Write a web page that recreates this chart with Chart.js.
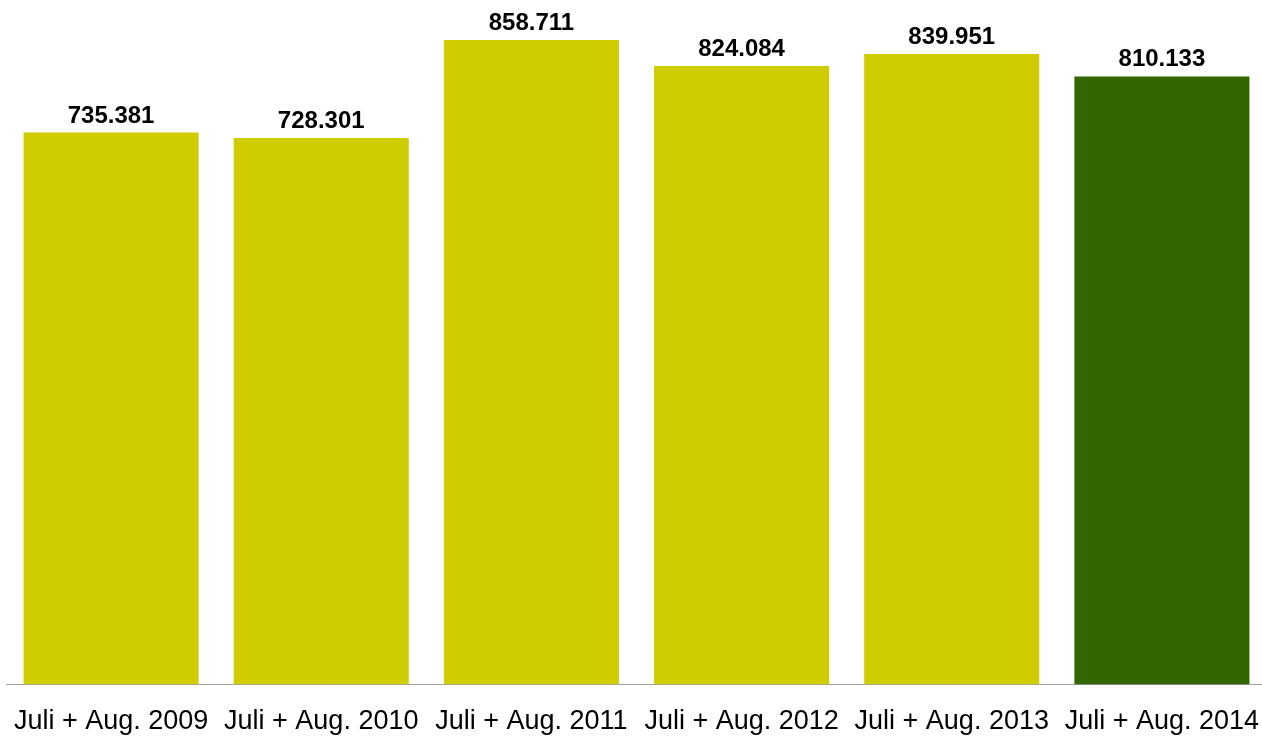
<!DOCTYPE html>
<html>
<head>
<meta charset="utf-8">
<script src="https://cdn.jsdelivr.net/npm/chart.js@4.4.1/dist/chart.umd.min.js"></script>
<style>
    html, body { margin: 0; padding: 0; background: #fff; overflow: hidden; }
    #chart { display: block; }
</style>
</head>
<body>
<canvas id="chart" width="1267" height="738"></canvas>
<script>
const categories = ['Juli + Aug. 2009', 'Juli + Aug. 2010', 'Juli + Aug. 2011', 'Juli + Aug. 2012', 'Juli + Aug. 2013', 'Juli + Aug. 2014'];
const values = [735381, 728301, 858711, 824084, 839951, 810133];
const barColors = ['#cfcd00', '#cfcd00', '#cfcd00', '#cfcd00', '#cfcd00', '#336600'];

function formatDe(n) {
    return String(n).replace(/\B(?=(\d{3})+(?!\d))/g, '.');
}

const valueLabels = {
    id: 'valueLabels',
    afterDatasetsDraw(chart) {
        const ctx = chart.ctx;
        const meta = chart.getDatasetMeta(0);
        ctx.save();
        ctx.font = 'bold 24px "Liberation Sans", Arial, sans-serif';
        ctx.fillStyle = '#000';
        ctx.textAlign = 'center';
        ctx.textBaseline = 'alphabetic';
        meta.data.forEach((bar, i) => {
            ctx.fillText(formatDe(values[i]), bar.x, bar.y - 10);
        });
        ctx.restore();
    }
};

new Chart(document.getElementById('chart'), {
    type: 'bar',
    data: {
        labels: categories,
        datasets: [{
            data: values,
            backgroundColor: barColors,
            borderWidth: 0,
            barPercentage: 0.833,
            categoryPercentage: 1
        }]
    },
    options: {
        responsive: false,
        devicePixelRatio: 1,
        animation: false,
        layout: { padding: { left: 6, right: 0, top: 9, bottom: 0 } },
        plugins: { legend: { display: false }, tooltip: { enabled: false } },
        scales: {
            x: {
                // invisible tick marks, only used as spacing under the axis
                grid: { display: true, drawOnChartArea: false, drawTicks: true, tickLength: 21, color: 'rgba(0,0,0,0)' },
                border: { display: true, color: '#a0a0a0', width: 1 },
                ticks: {
                    color: '#000',
                    padding: 0,
                    maxRotation: 0,
                    font: { family: '"Liberation Sans", Arial, sans-serif', size: 27 }
                }
            },
            y: {
                display: false,
                min: 0,
                max: 900000
            }
        }
    },
    plugins: [valueLabels]
});
</script>
</body>
</html>
